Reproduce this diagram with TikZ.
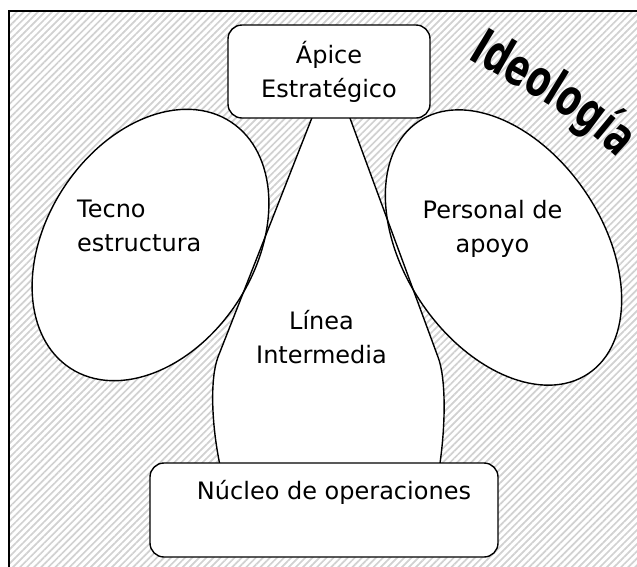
\documentclass[tikz,border=0pt]{standalone}
\usepackage{fontspec}
\setmainfont{DejaVu Sans}
\newfontfamily\ideofont[FakeStretch=0.68]{DejaVu Sans}
\usetikzlibrary{calc,shapes.geometric,patterns.meta,decorations.text}

\tikzset{
  hatch/.style={pattern={Lines[angle=45,distance=5pt,line width=1.7pt]},pattern color=black!18},
  blob/.style={ellipse,draw,fill=white,line width=1.4pt,inner sep=0pt},
  box/.style={rectangle,rounded corners=14pt,draw,fill=white,line width=1.4pt,inner sep=0pt},
  txt/.style={font=\fontsize{24}{34}\selectfont,inner sep=0pt},
}
\newcommand\ideostyle{\ideofont\bfseries\fontsize{51}{51}\selectfont}
\newcommand\flaskpath{(315,110) -- (218,357) .. controls (210,378) and (211,425) .. (221,470) -- (439,470) .. controls (446,425) and (446,378) .. (438,357) -- (347,110) -- cycle}

\begin{document}
\begin{tikzpicture}[x=1pt,y=-1pt]
            \useasboundingbox (0,0) rectangle (637,566);
            \fill[hatch] (9,11) rectangle (660,590);
            \draw[line width=1.5pt] (9,590) -- (9,11) -- (660,11);
            \fill[white] \flaskpath;
            \node[blob, minimum width=294, minimum height=208, rotate=57] at (150.5,245) (tecno) {};
            \node[blob, minimum width=304, minimum height=198, rotate=-56] at (503.5,247.5) (apoyo) {};
            \draw[line width=1.4pt] \flaskpath;
            \node[box, txt, align=center, minimum width=202, minimum height=93] at (329,71.5) (apice) {Ápice\\Estratégico};
            \node[box, minimum width=348, minimum height=94] at (324,510) (nucleo) {};
            \node[txt, anchor=base] at ($(nucleo)+(10,-11)$) (nucleotxt) {Núcleo de operaciones};
            \node[txt, align=left, anchor=west] at ($(tecno)+(-73.5,-19)$) (tecnotxt) {Tecno\\estructura};
            \node[txt, align=center] at ($(apoyo)+(-11,-18.5)$) (apoyotxt) {Personal de\\apoyo};
            \node[txt, align=center] at (321.5,337.5) (lineatxt) {Línea\\Intermedia};
            \path[decorate, decoration={text along path, text={|\ideostyle|Ideología}, text align=left}]
                (468,58) .. controls (520,90) and (572,111) .. (628,168);
\end{tikzpicture}
\end{document}
